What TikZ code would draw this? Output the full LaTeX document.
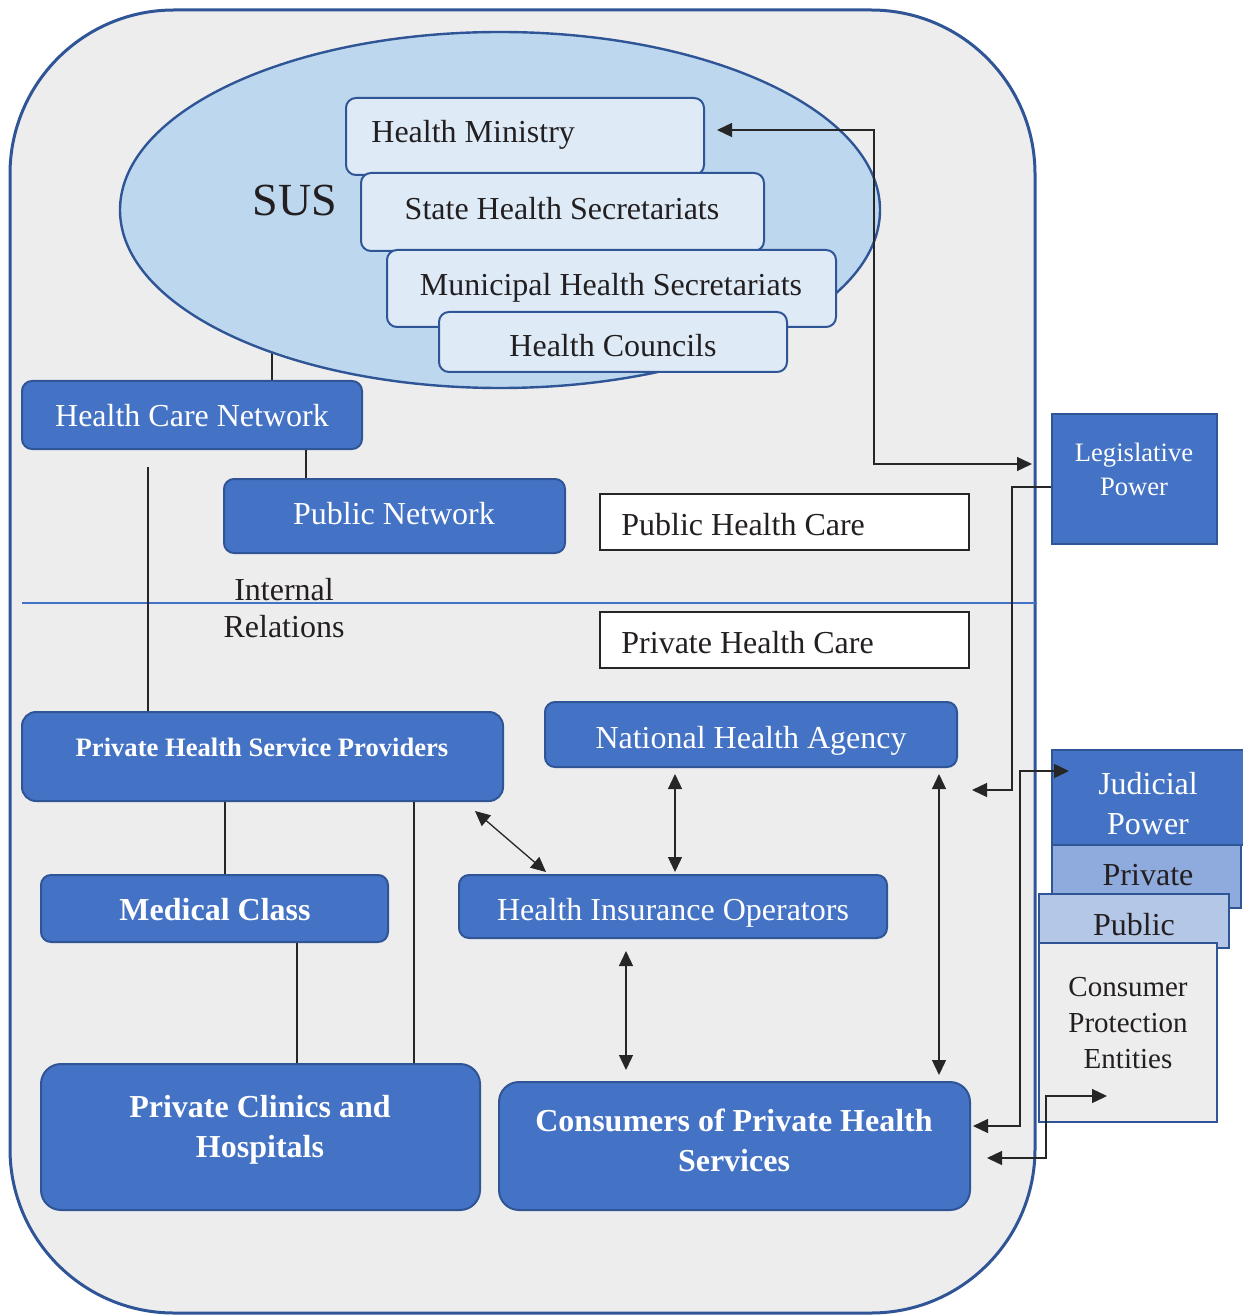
\documentclass[tikz,border=0pt]{standalone}
\usepackage{fontspec}
\setmainfont{Liberation Serif}
\usetikzlibrary{arrows.meta,calc,shapes.geometric}
\definecolor{outerfill}{HTML}{EDEDED}
\definecolor{bord}{HTML}{2F5597}
\definecolor{ellfill}{HTML}{BDD7EE}
\definecolor{paleblue}{HTML}{DEEBF7}
\definecolor{midblue}{HTML}{4472C4}
\definecolor{privfill}{HTML}{8FAADC}
\definecolor{pubfill}{HTML}{B4C7E7}
\definecolor{linegray}{HTML}{262626}
\definecolor{textdark}{HTML}{231F20}
\pgfdeclarelayer{back}
\pgfdeclarelayer{bgl}
\pgfsetlayers{back,bgl,main}
\begin{document}
\begin{tikzpicture}[x=0.5pt,y=-0.5pt,
  box/.style={draw=bord, line width=1pt, inner sep=0pt, rounded corners=5pt},
  lbox/.style={box, fill=paleblue, text=textdark},
  bbox/.style={box, fill=midblue, text=white},
  sqbox/.style={draw=bord, line width=1pt, inner sep=0pt},
  wbox/.style={draw=linegray, line width=0.7pt, fill=white, inner sep=0pt},
  txt/.style={inner sep=0pt, text=textdark, font=\fontsize{16}{19.2}\selectfont},
  wtxt/.style={inner sep=0pt, text=white, font=\fontsize{16}{19.2}\selectfont},
  btxt/.style={inner sep=0pt, text=white, font=\fontsize{16}{20}\selectfont\bfseries},
  cline/.style={draw=linegray, line width=0.65pt},
  biarrow/.style={cline, {Triangle[length=7.5pt,width=7pt]}-{Triangle[length=7.5pt,width=7pt]}},
  oarrow/.style={cline, -{Triangle[length=7.5pt,width=7pt]}}
]
\useasboundingbox (0,0) rectangle (1242,1315);

% outer container
\begin{pgfonlayer}{back}
\node[draw=bord, fill=outerfill, line width=1.5pt, rounded corners=82pt, inner sep=0pt,
      minimum width=512.5pt, minimum height=651.5pt] (outer) at (522.5,661.5) {};
\end{pgfonlayer}

% SUS ellipse
\node[ellipse, draw=bord, fill=ellfill, line width=1.2pt, inner sep=0pt,
      minimum width=380pt, minimum height=178pt] (sus) at (500,210) {};
\node[txt, font=\fontsize{23}{27}\selectfont] (suslbl) at (295,200) {SUS};

\node[lbox, minimum width=179pt, minimum height=38.5pt] (hm) at (525,136.5) {};
\node[txt, anchor=west] (hmt) at (371,135) {Health Ministry};
\node[lbox, minimum width=201.5pt, minimum height=39pt] (shs) at (562.5,212) {};
\node[txt] (shst) at (562,209) {State Health Secretariats};
\node[lbox, minimum width=224.5pt, minimum height=38.5pt] (mhs) at (611.5,288.5) {};
\node[txt] (mhst) at (611,288) {Municipal Health Secretariats};
\node[lbox, minimum width=174pt, minimum height=30pt] (hc) at (613,342) {};
\node[txt] (hct) at (613,346) {Health Councils};

% public side
\node[bbox, minimum width=170pt, minimum height=34pt] (hcn) at (192,415) {};
\node[wtxt] (hcnt) at (192,416) {Health Care Network};
\node[bbox, minimum width=170.5pt, minimum height=37pt] (pubnet) at (394.5,516) {};
\node[wtxt] (pubnett) at (394,514) {Public Network};
\node[wbox, minimum width=184.5pt, minimum height=28pt] (phc) at (784.5,522) {};
\node[txt, anchor=west] (phct) at (621,525) {Public Health Care};
\node[wbox, minimum width=184.5pt, minimum height=28pt] (prhc) at (784.5,640) {};
\node[txt, anchor=west] (prhct) at (621,643) {Private Health Care};
\node[txt, align=center, font=\fontsize{16}{18.5}\selectfont] (ir) at (284,608) {Internal\\Relations};

% legislative
\node[sqbox, fill=midblue, minimum width=82.5pt, minimum height=65pt] (leg) at (1134.5,479) {};
\node[wtxt, align=center, font=\fontsize{13.3}{17}\selectfont] (legt) at (1134,469) {Legislative\\Power};

% private side
\node[bbox, rounded corners=7pt, minimum width=240.5pt, minimum height=44.5pt] (phsp) at (262.5,756.5) {};
\node[btxt, font=\fontsize{13.3}{16}\selectfont\bfseries] (phspt) at (262,747) {Private Health Service Providers};
\node[bbox, minimum width=206pt, minimum height=32.5pt] (nha) at (751,734.5) {};
\node[wtxt] (nhat) at (751,741) {National Health Agency};
\node[bbox, minimum width=173.5pt, minimum height=33.5pt] (mc) at (214.5,908.5) {};
\node[btxt] (mct) at (215,910) {Medical Class};
\node[bbox, minimum width=214pt, minimum height=31.5pt] (hio) at (673,906.5) {};
\node[wtxt] (hiot) at (673,913) {Health Insurance Operators};
\node[bbox, rounded corners=10pt, minimum width=219.5pt, minimum height=73pt] (pch) at (260.5,1137) {};
\node[btxt, align=center] (pcht) at (260,1130) {Private Clinics and\\Hospitals};
\node[bbox, rounded corners=10pt, minimum width=235.5pt, minimum height=64pt] (cphs) at (734.5,1146) {};
\node[btxt, align=center] (cphst) at (734,1140) {Consumers of Private Health\\Services};

% judicial stack
\node[sqbox, fill=midblue, minimum width=99pt, minimum height=47.5pt] (jud) at (1151,797.5) {};
\node[wtxt, align=center, font=\fontsize{16}{20}\selectfont] (judt) at (1148,804) {Judicial\\Power};
\node[sqbox, fill=privfill, minimum width=94.5pt, minimum height=31.5pt] (priv) at (1146.5,876.5) {};
\node[txt] (privt) at (1148,875) {Private};
\node[sqbox, fill=pubfill, minimum width=95pt, minimum height=27pt] (pub) at (1134,921) {};
\node[txt] (pubt) at (1134,925) {Public};
\node[sqbox, fill=outerfill, minimum width=89pt, minimum height=89.5pt] (cpe) at (1128,1032.5) {};
\node[txt, align=center, font=\fontsize{14.5}{18}\selectfont] (cpet) at (1128,1023) {Consumer\\Protection\\Entities};

% separator line
\coordinate (sepL) at (22,603);
\draw[midblue, line width=0.6pt] (sepL) -- (sepL -| outer.east);

% coordinates for connectors
\coordinate (x272) at (272,0);
\coordinate (x306) at (306,0);
\coordinate (c148) at (148,467);
\coordinate (x225) at (225,0);
\coordinate (x414) at (414,0);
\coordinate (x297) at (297,0);
\coordinate (x675) at (675,0);
\coordinate (x939) at (939,0);
\coordinate (x626) at (626,0);
\coordinate (x874) at (874,0);
\coordinate (x1012) at (1012,0);
\coordinate (x1020) at (1020,0);
\coordinate (x1046) at (1046,0);

% plain lines
\begin{pgfonlayer}{bgl}
\draw[cline] (hcn.north -| x272) -- ++(0,-40);
\end{pgfonlayer}
\draw[cline] (hcn.south -| x306) -- (pubnet.north -| x306);
\draw[cline] (c148) -- (c148 |- phsp.north);
\draw[cline] (phsp.south -| x225) -- (mc.north -| x225);
\draw[cline] (phsp.south -| x414) -- (pch.north -| x414);
\draw[cline] (mc.south -| x297) -- (pch.north -| x297);

% double arrows
\coordinate (d1) at ([shift={(-14.5pt,-4.5pt)}]phsp.south east);
\coordinate (d2) at ([shift={(44pt,1pt)}]hio.north west);
\draw[biarrow] (d1) -- (d2);
\draw[biarrow, shorten <=3pt, shorten >=1pt] (nha.south -| x675) -- (hio.north -| x675);
\draw[biarrow, shorten <=3pt, shorten >=3pt] (nha.south -| x939) -- (cphs.north -| x939);
\draw[biarrow, shorten <=6pt, shorten >=5.5pt] (hio.south -| x626) -- (cphs.north -| x626);

% health ministry <-> legislative
\coordinate (hmin) at ([shift={(6pt,3.25pt)}]hm.east);
\coordinate (legin) at ([shift={(-9.5pt,7.5pt)}]leg.west);
\draw[biarrow] (hmin) -- (hmin -| x874) -- (x874 |- legin) -- (legin);

% legislative -> national health agency side
\coordinate (legout) at ([yshift=-4pt]leg.west);
\coordinate (nhaside) at (972,790);
\draw[oarrow] (legout) -- (legout -| x1012) -- (x1012 |- nhaside) -- (nhaside);

% consumers <-> judicial
\coordinate (cphsA) at ([shift={(1pt,10pt)}]cphs.east);
\coordinate (judin) at ([shift={(9pt,-11pt)}]jud.north west);
\draw[biarrow] (cphsA) -- (cphsA -| x1020) -- (x1020 |- judin) -- (judin);

% consumers <-> consumer protection
\coordinate (cphsB) at ([shift={(8pt,-6pt)}]cphs.east);
\coordinate (cpein) at ([shift={(34.5pt,13.5pt)}]cpe.south west);
\draw[biarrow] (cphsB) -- (cphsB -| x1046) -- (x1046 |- cpein) -- (cpein);

\end{tikzpicture}
\end{document}
